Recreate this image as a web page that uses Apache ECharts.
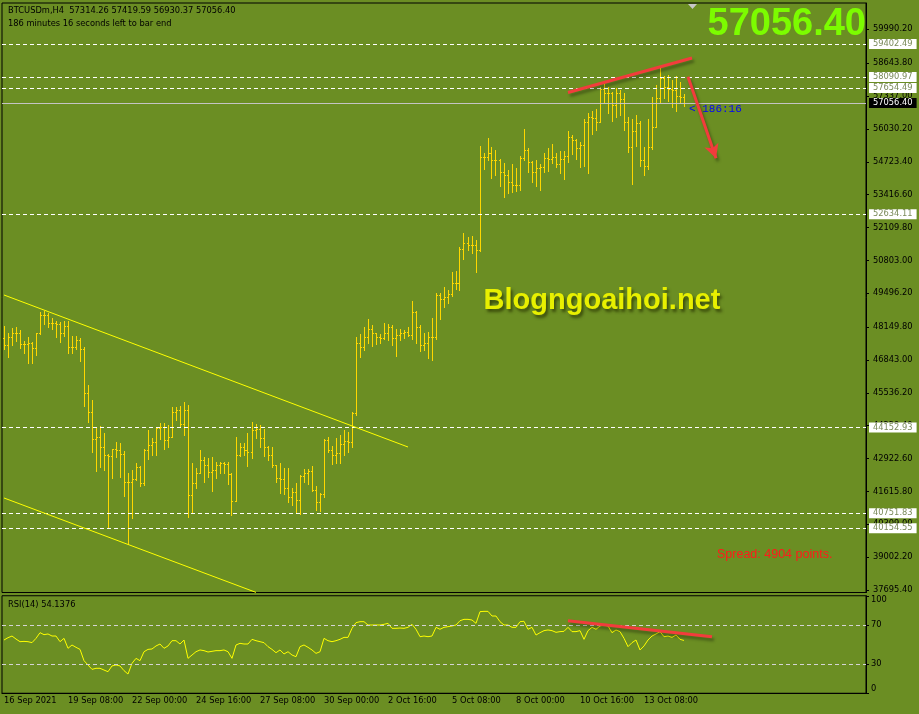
<!DOCTYPE html>
<html>
<head>
<meta charset="utf-8">
<title>BTCUSDm,H4</title>
<script src="https://cdn.jsdelivr.net/npm/echarts@6.0.0/dist/echarts.min.js"></script>
<style>
  html, body { margin: 0; padding: 0; background: #6b8e23; }
  #chart { width: 919px; height: 714px; }
</style>
</head>
<body>
<div id="chart"></div>
<script>
// BTCUSDm H4 bars, 16 Sep 2021 16:00 onwards
const closes = [47438,47769,47902,47902,47465,47465,47505,47306,47902,48631,
  48631,48326,48300,48273,47902,48194,47346,47346,47637,47266,
  45517,44788,43688,43795,43397,43050,43026,43291,43265,43105,
  42006,42006,42098,42602,41940,43265,43463,43596,44126,44192,
  43662,43795,44788,44855,44298,44855,41476,41940,42364,42867,
  42668,42403,42470,42668,42735,42708,42311,41251,43066,43397,
  43265,43198,44060,44086,43728,43397,43066,42650,42138,42098,
  41741,41410,41608,41277,42231,42337,42443,41674,41211,41516,
  43662,43265,43066,43132,43503,43636,43596,44722,47505,47348,
  47745,48063,47904,47771,47705,47904,48169,47705,47838,47904,
  47970,47838,48765,48169,47440,47533,47771,47745,49428,49256,
  49335,49468,49918,49918,51243,51481,51415,51415,51217,54927,
  54927,55059,54794,54794,54330,54198,53933,53800,53800,54860,
  55191,54728,54330,54463,54529,54860,54820,54927,54635,54820,
  54953,55695,55589,55258,55390,56318,56490,56450,56318,57603,
  57444,57471,56980,57471,57206,56318,55298,55960,56252,54800,
  54556,55298,56119,57245,58040,57709,57603,57577,57338,57314.26,
  57056.40];
const highs = [48193,47902,48101,48167,48034,47610,47743,47571,47928,48763,
  48803,48724,48498,48406,48366,48406,48406,47796,47796,47703,
  47372,45848,45252,44126,44219,43927,43100,43320,43596,43530,
  43238,42337,42470,42761,42629,43291,44060,43728,44192,44351,
  44325,44258,44961,44961,45014,45186,45053,42735,42536,43265,
  42999,42933,42999,42801,42801,42801,42801,42337,43768,43530,
  43556,43954,44391,44298,44258,44086,43423,43397,42668,42761,
  42536,42536,41741,41966,42271,42496,42496,42629,41834,41542,
  43688,43795,43423,43728,43861,44060,43993,44788,47743,47878,
  48169,48460,48235,47930,47878,48302,48275,48235,48063,48089,
  48037,48169,49203,48805,48235,47931,47970,48500,49494,49494,
  49733,49627,50355,50395,51349,51879,51747,51773,51614,55351,
  55059,55655,55324,55192,54820,54688,54397,54635,54463,54953,
  56013,55258,54760,54794,54635,55059,55258,55430,55086,55165,
  55165,55960,55788,55620,55523,56411,56676,56755,56808,57683,
  57815,57683,57500,57643,57577,57444,56490,56411,56583,56358,
  55298,56411,57285,57775,58478,58133,58173,57974,58133,57908,
  57419.59];
const lows = [47266,46975,47438,47610,47306,47133,46709,46736,47041,47880,
  48273,48167,48061,47769,47571,47796,47107,47107,47266,46816,
  45014,44391,43198,42443,42602,42470,40151,42138,42999,42205,
  41449,39528,40548,42072,41834,41874,42894,43066,43066,43688,
  43291,43397,43768,44457,44192,43861,40615,40774,41741,42337,
  42006,42205,41648,42138,42337,42337,41913,40681,41230,43026,
  43066,42642,42933,43728,43397,43026,42867,42602,42006,41569,
  41516,41211,41078,40774,40721,42006,41913,41648,40880,40853,
  41410,43198,42708,42735,42761,43066,43198,43397,44656,46950,
  47241,47506,47400,47480,47506,47680,47639,47440,47003,47639,
  47705,47798,47665,47506,47215,47241,46920,46844,47665,48460,
  48964,49097,49388,49653,49627,50846,51217,51084,50355,51190,
  54423,54794,54065,54198,53761,53337,53496,53535,53575,53602,
  54794,54330,53933,53761,53602,54330,54370,54662,54529,54264,
  54026,54728,55033,54820,54529,54556,54291,55828,55987,56300,
  57073,56676,56358,56517,56583,55987,55125,53840,55351,54556,
  54198,54423,55250,56100,57073,57245,57153,56914,56755,57113,
  56930.37];
// each bar opens where the previous one closed
const opens = [47700].concat(closes.slice(0, -1));

const rsi = [54.6,57.0,58.7,55.6,52.9,53.2,52.9,51.9,56.3,62.1,
  60.1,60.8,58.7,58.7,52.9,56.3,46.1,49.5,47.1,45.0,
  33.4,29.0,24.5,25.6,25.6,23.8,22.1,28.0,29.0,28.0,
  23.2,19.7,30.7,35.8,33.4,42.6,45.0,45.4,48.5,50.5,
  46.1,48.5,53.9,53.9,50.5,54.6,35.8,39.2,42.6,44.4,
  43.7,42.3,43.0,43.7,43.7,44.4,42.6,35.8,49.5,51.2,
  50.5,50.5,55.3,53.9,52.9,51.9,47.8,45.0,41.6,44.4,
  40.3,42.6,39.2,37.5,47.8,49.5,47.1,44.4,40.9,42.6,
  56.3,53.9,52.9,53.9,55.3,57.3,57.3,66.6,72.4,73.4,
  73.4,70.0,70.0,70.0,70.0,70.7,71.7,66.6,66.6,66.9,
  66.6,67.6,70.7,65.6,58.0,58.7,58.0,58.7,67.6,65.6,
  67.6,68.3,69.0,70.0,74.4,75.8,75.8,75.1,71.7,83.7,
  84.0,84.0,79.2,79.2,73.4,70.0,70.0,67.6,67.6,73.4,
  73.8,65.6,67.6,59.7,62.1,64.2,64.9,64.2,62.5,63.2,
  63.5,67.6,63.2,63.2,64.2,55.3,64.2,67.6,65.6,69.0,
  70.0,69.0,62.1,64.9,63.2,56.3,47.8,51.9,54.6,44.4,
  48.5,54.6,58.7,60.8,63.2,58.0,58.7,57.3,59.7,55.3,
  54.14];

const priceTicks = [59990.20, 58643.80, 57337.00, 56030.20, 54723.40, 53416.60,
  52109.80, 50803.00, 49496.20, 48149.80, 46843.00, 45536.20, 44229.40,
  42922.60, 41615.80, 40309.00, 39002.20, 37695.40];
const rsiTicks = [0, 30, 70, 100];
const rsiLevels = [70, 30];
const levelPrices = [59402.49, 58090.97, 57654.49, 52634.11, 44152.93, 40751.83, 40154.55];
const bidPrice = 57056.40;
const timeLabels = ['16 Sep 2021', '19 Sep 08:00', '22 Sep 00:00', '24 Sep 16:00',
  '27 Sep 08:00', '30 Sep 00:00', '2 Oct 16:00', '5 Oct 08:00', '8 Oct 00:00',
  '10 Oct 16:00', '13 Oct 08:00'];

// hand-drawn objects: [bar index, price]
const channelTop = [[0, 49426], [101, 43382]];
const channelBottom = [[0, 41355], [63, 37601]];
const topTrend = [[141, 57477], [172, 58849]];
const downArrow = [[171, 58105], [178, 54861]];
const rsiTrend = [[141, 74.4], [177, 58.0]];

// 4h categories, including the empty shift area on the right
const MONTHS = ['Jan','Feb','Mar','Apr','May','Jun','Jul','Aug','Sep','Oct','Nov','Dec'];
const categories = [];
const t0 = Date.UTC(2021, 8, 16, 16);
for (let i = 0; i < 216; i++) {
  const d = new Date(t0 + i * 4 * 3600 * 1000);
  categories.push(d.getUTCDate() + ' ' + MONTHS[d.getUTCMonth()] + ' ' +
    String(d.getUTCHours()).padStart(2, '0') + ':00');
}
const labelAt = {};
timeLabels.forEach((t, k) => { labelAt[categories[k * 16]] = t; });
const showTime = (idx) => idx % 16 === 0 && idx / 16 < timeLabels.length;

const FONT = 'DejaVu Sans';
const BAR = '#ffd700';

const ohlc = closes.map((c, i) => [i, opens[i], c, lows[i], highs[i]]);

function renderBar(params, api) {
  const i = api.value(0);
  const o = api.coord([i, api.value(1)]);
  const c = api.coord([i, api.value(2)]);
  const l = api.coord([i, api.value(3)]);
  const h = api.coord([i, api.value(4)]);
  const x = Math.floor(o[0]);
  const top = Math.round(h[1]);
  const bottom = Math.round(l[1]);
  return {
    type: 'group',
    children: [
      { type: 'rect', shape: { x: x, y: top, width: 1, height: Math.max(1, bottom - top + 1) }, style: { fill: BAR } },
      { type: 'rect', shape: { x: x - 1, y: Math.round(o[1]), width: 1, height: 1 }, style: { fill: BAR } },
      { type: 'rect', shape: { x: x + 1, y: Math.round(c[1]), width: 1, height: 1 }, style: { fill: BAR } }
    ]
  };
}

const levelLabel = {
  show: true, position: 'end', distance: 3,
  backgroundColor: '#ffffff', color: '#7a8a5a',
  padding: [1, 4, 1, 4], fontSize: 8.3, fontFamily: FONT
};
const redLine = {
  color: '#f23c3c', width: 3, type: 'solid',
  shadowColor: 'rgba(0,0,0,0.35)', shadowBlur: 3, shadowOffsetX: 2, shadowOffsetY: 3
};
const pair = (pts, style, endSymbol) => [
  { coord: pts[0], symbol: 'none', lineStyle: style, label: { show: false } },
  { coord: pts[1], symbol: endSymbol || 'none', symbolSize: [11, 14], lineStyle: style, label: { show: false } }
];

const priceMarks = levelPrices.map(p => ({
  yAxis: p,
  lineStyle: { color: '#ffffff', width: 1, type: [4, 3] },
  label: Object.assign({}, levelLabel, { formatter: p.toFixed(2) })
}));
priceMarks.push({
  yAxis: bidPrice,
  lineStyle: { color: '#c4c4c4', width: 1, type: 'solid' },
  label: Object.assign({}, levelLabel, { backgroundColor: '#000', color: '#fff', formatter: bidPrice.toFixed(2) })
});
priceMarks.push(pair(channelTop, { color: '#ffff00', width: 1, type: 'solid' }));
priceMarks.push(pair(channelBottom, { color: '#ffff00', width: 1, type: 'solid' }));
priceMarks.push(pair(topTrend, redLine));
priceMarks.push(pair(downArrow, redLine, 'arrow'));

const rsiMarks = rsiLevels.map(v => ({
  yAxis: v,
  lineStyle: { color: '#d4d4d4', width: 1, type: [4, 3] },
  label: { show: false }
}));
rsiMarks.push(pair(rsiTrend, redLine));

const chart = echarts.init(document.getElementById('chart'));
chart.setOption({
  animation: false,
  backgroundColor: '#6b8e23',
  textStyle: { fontFamily: FONT },
  grid: [
    { left: 2, top: 3, width: 864, height: 589.5, show: true, borderColor: '#000', borderWidth: 1 },
    { left: 2, top: 595.75, width: 864, height: 97.5, show: true, borderColor: '#000', borderWidth: 1 }
  ],
  xAxis: [
    { type: 'category', gridIndex: 0, data: categories,
      axisLine: { show: false }, axisTick: { show: false }, axisLabel: { show: false } },
    { type: 'category', gridIndex: 1, data: categories,
      axisLine: { lineStyle: { color: '#000' } },
      axisTick: { alignWithLabel: true, interval: showTime, length: 4, lineStyle: { color: '#000' } },
      axisLabel: { interval: showTime, formatter: v => labelAt[v] || '', align: 'left',
        margin: 4, color: '#000', fontSize: 8.3, fontFamily: FONT } }
  ],
  yAxis: [
    { type: 'value', gridIndex: 0, position: 'right', min: 37597, max: 61036,
      axisLine: { show: true, lineStyle: { color: '#000' } },
      axisTick: { show: true, length: 3, customValues: priceTicks, lineStyle: { color: '#000' } },
      axisLabel: { customValues: priceTicks, formatter: v => v.toFixed(2), margin: 7,
        color: '#000', fontSize: 8.3, fontFamily: FONT },
      splitLine: { show: false } },
    { type: 'value', gridIndex: 1, position: 'right', min: 0, max: 100,
      axisLine: { show: true, lineStyle: { color: '#000' } },
      axisTick: { show: true, length: 3, customValues: rsiTicks, lineStyle: { color: '#000' } },
      axisLabel: { customValues: rsiTicks, margin: 5, color: '#000', fontSize: 8.3, fontFamily: FONT,
        verticalAlignMinLabel: 'bottom', verticalAlignMaxLabel: 'top' },
      splitLine: { show: false } }
  ],
  series: [
    { type: 'custom', xAxisIndex: 0, yAxisIndex: 0, data: ohlc, renderItem: renderBar,
      encode: { x: 0, y: [1, 2, 3, 4] }, silent: true, z: 3 },
    { type: 'line', xAxisIndex: 0, yAxisIndex: 0, data: closes, showSymbol: false, silent: true,
      lineStyle: { opacity: 0 }, z: 4,
      markLine: { silent: true, symbol: ['none', 'none'], animation: false, data: priceMarks } },
    { type: 'line', xAxisIndex: 1, yAxisIndex: 1, data: rsi, showSymbol: false, silent: true,
      lineStyle: { color: '#ffff00', width: 1 }, itemStyle: { color: '#ffff00' }, z: 3,
      markLine: { silent: true, symbol: ['none', 'none'], animation: false, data: rsiMarks } }
  ],
  graphic: { elements: [
    { type: 'text', x: 8, y: 11, silent: true, style: { text: 'BTCUSDm,H4  57314.26 57419.59 56930.37 57056.40',
      fill: '#000', font: '8.3px "DejaVu Sans"', verticalAlign: 'middle' } },
    { type: 'text', x: 8, y: 24, silent: true, style: { text: '186 minutes 16 seconds left to bar end',
      fill: '#000', font: '8.3px "DejaVu Sans"', verticalAlign: 'middle' } },
    { type: 'text', x: 866, y: 25, silent: true, style: { text: '57056.40', fill: '#7cfc00',
      font: 'bold 38px "Liberation Sans"', align: 'right', verticalAlign: 'middle' } },
    { type: 'text', x: 602, y: 301, silent: true, z: 1, style: { text: 'Blogngoaihoi.net', fill: '#e8f000',
      font: 'bold 29px "Liberation Sans"', align: 'center', verticalAlign: 'middle',
      textShadowColor: 'rgba(40,50,0,0.7)', textShadowBlur: 3, textShadowOffsetX: 2, textShadowOffsetY: 3 } },
    { type: 'text', x: 717, y: 555, silent: true, style: { text: 'Spread: 4904 points.', fill: '#ff1a1a',
      font: '12.5px "Liberation Sans"', verticalAlign: 'middle' } },
    { type: 'text', x: 689, y: 109, silent: true, style: { text: '< 186:16', fill: '#0000ff',
      font: '11px "Liberation Mono"', verticalAlign: 'middle' } },
    { type: 'text', x: 8, y: 605, silent: true, style: { text: 'RSI(14) 54.1376', fill: '#000',
      font: '8.3px "DejaVu Sans"', verticalAlign: 'middle' } },
    { type: 'polygon', silent: true, shape: { points: [[688, 4], [697, 4], [692.5, 9]] },
      style: { fill: '#c8c8c8' } }
  ] }
});
</script>
</body>
</html>
